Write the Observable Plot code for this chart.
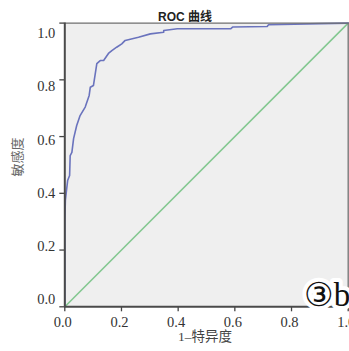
<!DOCTYPE html>
<html><head><meta charset="utf-8">
<script src="https://cdn.jsdelivr.net/npm/d3@7"></script>
<script src="https://cdn.jsdelivr.net/npm/@observablehq/plot@0.6"></script>
<style>body{margin:0;background:#fff;overflow:hidden}</style>
</head><body><div id="chart"></div>
<script>
const title = "ROC 曲线";
const xLabel = "1–特异度";
const yLabel = "敏感度";
const panelTag = "③b";
const fpr = [0, 0, 0.002, 0.006, 0.010, 0.017, 0.019, 0.025, 0.031, 0.042, 0.054, 0.072, 0.086, 0.090, 0.101, 0.113, 0.125, 0.137, 0.154, 0.166, 0.183, 0.201, 0.213, 0.260, 0.302, 0.349, 0.349, 0.397, 0.585, 0.592, 0.714, 0.719, 0.902, 1];
const tpr = [0, 0.30, 0.375, 0.41, 0.445, 0.463, 0.533, 0.544, 0.593, 0.639, 0.674, 0.704, 0.745, 0.774, 0.780, 0.857, 0.868, 0.868, 0.893, 0.903, 0.915, 0.927, 0.939, 0.950, 0.962, 0.968, 0.974, 0.980, 0.980, 0.986, 0.988, 0.994, 0.998, 1];
const diag = [0, 1];
const ticks = [0, 0.2, 0.4, 0.6, 0.8, 1.0];
const tickLabels = ["0.0", "0.2", "0.4", "0.6", "0.8", "1.0"];

const W = 349, H = 351, ML = 64.3, MR = 1.3, MT = 22.6, MB = 44.7;
const roc = fpr.map((f, i) => ({fpr: f, tpr: tpr[i]}));
const serif = "Liberation Serif, Times New Roman, serif";
// tick length of 5px expressed in data units
const tkX = 5 / (W - ML - MR), tkY = 5 / (H - MT - MB);
// y tick labels in the source sit on a slightly compressed spacing relative to the ticks
const labelY = v => 0.0257 + v * 0.937;

const chart = Plot.plot({
  width: W, height: H,
  marginLeft: ML, marginRight: MR, marginTop: MT, marginBottom: MB,
  x: {domain: [0, 1], axis: null},
  y: {domain: [0, 1], axis: null},
  marks: [
    Plot.frame({fill: "#efefef", stroke: null}),
    Plot.line(diag, {x: d => d, y: d => d, stroke: "#84c891", strokeWidth: 1.6}),
    Plot.line(roc, {x: "fpr", y: "tpr", stroke: "#6a73bd", strokeWidth: 1.6}),
    Plot.ruleY([1], {stroke: "#6f6f6f", strokeWidth: 1.3}),
    Plot.ruleX([1], {stroke: "#6f6f6f", strokeWidth: 1.3}),
    Plot.ruleY(ticks, {y: d => d, x1: -tkX, x2: 0, stroke: "#444", strokeWidth: 1.3}),
    Plot.ruleX(ticks, {x: d => d, y1: -tkY, y2: 0, stroke: "#444", strokeWidth: 1.3}),
    Plot.ruleX([0], {stroke: "#4a4a4a", strokeWidth: 2}),
    Plot.ruleY([0], {stroke: "#4a4a4a", strokeWidth: 2}),
    Plot.text(ticks, {y: d => labelY(d), text: (d, i) => tickLabels[i], frameAnchor: "left", textAnchor: "end", dx: -9.5, fontSize: 14.5, fontFamily: serif, fill: "#333"}),
    Plot.text(ticks, {x: d => d, text: (d, i) => tickLabels[i], frameAnchor: "bottom", dy: 20, dx: -2, fontSize: 14.5, fontFamily: serif, fill: "#333"}),
    Plot.text([title], {frameAnchor: "top", dy: -10.5, dx: -21.5, fontSize: 12, fontWeight: "bold", fontFamily: "Liberation Sans, Arial, Noto Sans CJK SC, sans-serif", fill: "#222"}),
    Plot.text([yLabel], {frameAnchor: "left", rotate: -90, dx: -47, dy: 11.5, fontSize: 13, fontFamily: "Noto Sans CJK SC, serif", fill: "#666"}),
    Plot.text([xLabel], {frameAnchor: "bottom", dy: 34.5, dx: -1.5, fontSize: 13.5, fontFamily: "Liberation Serif, Noto Sans CJK SC, serif", fill: "#444"}),
    Plot.text([panelTag], {frameAnchor: "bottom-right", textAnchor: "end", lineAnchor: "bottom", dx: 2, dy: -1, fontSize: 33, fontFamily: "Liberation Serif, DejaVu Serif, serif", fill: "#111", stroke: "#fff", strokeWidth: 8, strokeLinejoin: "round", paintOrder: "stroke"})
  ]
});
document.getElementById("chart").appendChild(chart);
</script>
</body></html>
